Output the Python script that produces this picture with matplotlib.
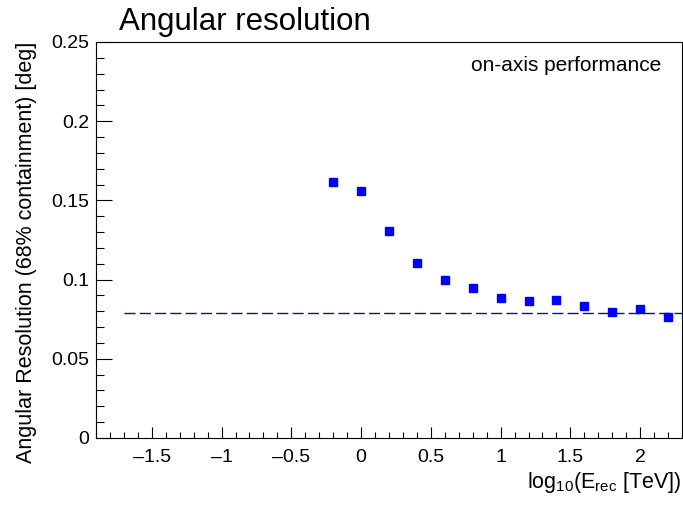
import matplotlib
matplotlib.use("Agg")
import matplotlib.pyplot as plt
from matplotlib.ticker import MultipleLocator

plt.rcParams['font.family'] = ['Liberation Sans', 'DejaVu Sans']
plt.rcParams['mathtext.fontset'] = 'custom'
plt.rcParams['mathtext.rm'] = 'Liberation Sans'

# log10 of reconstructed energy (bin centres) and 68% containment radius
log_energy = [-0.2, 0.0, 0.2, 0.4, 0.6, 0.8, 1.0, 1.2, 1.4, 1.6, 1.8, 2.0, 2.2]
ang_res = [0.1618, 0.1561, 0.1305, 0.1103, 0.0999, 0.0945, 0.0882,
           0.0865, 0.0871, 0.0833, 0.0795, 0.0814, 0.0766]

# requirement / reference level
ref_level = 0.0787
ref_range = [-1.7, 2.3]

xlim = (-1.9, 2.3)
ylim = (0.0, 0.25)

fig = plt.figure(figsize=(6.83, 5.05), dpi=100)
ax = fig.add_axes([96 / 683, 67 / 505, 586 / 683, 396 / 505])

ax.plot(ref_range, [ref_level, ref_level], color='#101090', lw=1.0,
        dashes=(8, 3))
ax.plot(log_energy, ang_res, ls='none', marker='s', ms=6,
        color='#0000ff', mec='#0000ff')

ax.set_xlim(*xlim)
ax.set_ylim(*ylim)
ax.xaxis.set_major_locator(MultipleLocator(0.5))
ax.xaxis.set_minor_locator(MultipleLocator(0.1))
ax.yaxis.set_major_locator(MultipleLocator(0.05))
ax.yaxis.set_minor_locator(MultipleLocator(0.01))

def fmt(v, _):
    s = ('%g' % round(v, 4))
    return s.replace('-', '\u2013')

ax.xaxis.set_major_formatter(plt.FuncFormatter(fmt))
ax.yaxis.set_major_formatter(plt.FuncFormatter(fmt))

ax.tick_params(axis='both', which='both', direction='in', width=0.8,
               labelsize=14, top=False, right=False)
ax.tick_params(axis='x', which='major', length=8, pad=8)
ax.tick_params(axis='x', which='minor', length=4)
ax.tick_params(axis='y', which='major', length=11.5, pad=5)
ax.tick_params(axis='y', which='minor', length=6)
for sp in ax.spines.values():
    sp.set_linewidth(0.8)

ax.set_ylabel('Angular Resolution (68% containment) [deg]', fontsize=15.5,
              loc='top')
ax.yaxis.set_label_coords(-0.1, 1.0)
ax.set_xlabel(r'log$_{10}$(E$_{\rm rec}$ [TeV])', fontsize=15.5, ha='right')
ax.xaxis.set_label_coords(1.0, -0.08)

fig.text(119 / 683, 1 - 22 / 505, 'Angular resolution', fontsize=22.5,
         va='center', ha='left')
ax.text(0.965, 0.94, 'on-axis performance', transform=ax.transAxes,
        fontsize=15, ha='right', va='center')

fig.savefig('out.png', dpi=100)
